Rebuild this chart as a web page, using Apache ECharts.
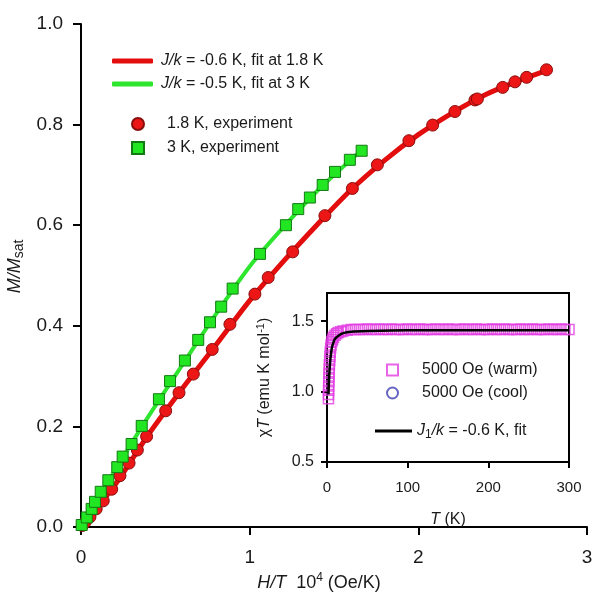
<!DOCTYPE html>
<html><head><meta charset="utf-8">
<script src="https://cdn.jsdelivr.net/npm/echarts@6/dist/echarts.min.js"></script>
<style>html,body{margin:0;padding:0;background:#fff}#c{width:600px;height:599px}</style>
</head><body><div id="c"></div>
<script>
const FONT = '"Liberation Sans", Arial, sans-serif';
const TXT = '#1a1a1a';

// ---- main plot: M/Msat vs H/T (10^4 Oe/K) ----
const exp18X = [0.008, 0.025, 0.053, 0.09, 0.132, 0.182, 0.231, 0.285, 0.334, 0.389, 0.502, 0.581, 0.666, 0.778, 0.883, 1.031, 1.110, 1.255, 1.446, 1.609, 1.757, 1.944, 2.085, 2.217, 2.336, 2.350, 2.500, 2.573, 2.642, 2.760];
const exp18Y = [0.003, 0.010, 0.020, 0.036, 0.052, 0.075, 0.102, 0.127, 0.153, 0.180, 0.231, 0.267, 0.304, 0.353, 0.403, 0.463, 0.496, 0.547, 0.619, 0.673, 0.720, 0.768, 0.799, 0.826, 0.849, 0.851, 0.874, 0.885, 0.894, 0.909];

const exp3X = [0.004, 0.034, 0.063, 0.083, 0.117, 0.162, 0.215, 0.247, 0.300, 0.360, 0.462, 0.528, 0.616, 0.695, 0.765, 0.831, 0.899, 1.061, 1.215, 1.288, 1.357, 1.433, 1.506, 1.594, 1.664];
const exp3Y = [0.004, 0.019, 0.036, 0.050, 0.070, 0.093, 0.119, 0.140, 0.165, 0.201, 0.254, 0.290, 0.331, 0.372, 0.407, 0.438, 0.474, 0.543, 0.600, 0.632, 0.655, 0.680, 0.706, 0.730, 0.748];

const fit18X = [0, 0.2, 0.4, 0.6, 0.8, 1.0, 1.2, 1.4, 1.6, 1.8, 2.0, 2.2, 2.4, 2.6, 2.78];
const fit18Y = [0, 0.083, 0.184, 0.275, 0.362, 0.450, 0.528, 0.601, 0.670, 0.729, 0.780, 0.823, 0.860, 0.888, 0.910];

const fit3X = [0, 0.2, 0.4, 0.6, 0.8, 1.0, 1.2, 1.4, 1.66];
const fit3Y = [0, 0.112, 0.220, 0.322, 0.423, 0.518, 0.596, 0.668, 0.748];

// ---- inset: chi*T vs T ----
const warmT = [1.8, 1.9, 2.0, 2.1, 2.2, 2.4, 2.6, 2.8, 3.0, 3.3, 3.6, 4, 4.5, 5, 6, 7, 8, 10, 12, 14, 17, 20, 25, 30, 35, 40, 45, 50, 55, 60, 65, 70, 75, 80, 85, 90, 95, 100, 105, 110, 115, 120, 125, 130, 135, 140, 145, 150, 155, 160, 165, 170, 175, 180, 185, 190, 195, 200, 205, 210, 215, 220, 225, 230, 235, 240, 245, 250, 255, 260, 265, 270, 275, 280, 285, 290, 295, 300];
const warmChiT = [0.95, 0.98, 1.01, 1.04, 1.07, 1.10, 1.13, 1.16, 1.19, 1.22, 1.25, 1.28, 1.31, 1.33, 1.355, 1.37, 1.385, 1.40, 1.41, 1.42, 1.425, 1.43, 1.435, 1.44, 1.44, 1.44, 1.44, 1.445, 1.44, 1.44, 1.445, 1.44, 1.44, 1.445, 1.44, 1.44, 1.44, 1.445, 1.44, 1.44, 1.445, 1.44, 1.44, 1.44, 1.445, 1.44, 1.44, 1.445, 1.44, 1.44, 1.44, 1.445, 1.44, 1.44, 1.445, 1.44, 1.44, 1.44, 1.445, 1.44, 1.44, 1.445, 1.44, 1.44, 1.44, 1.445, 1.44, 1.44, 1.445, 1.44, 1.44, 1.44, 1.445, 1.44, 1.44, 1.445, 1.44, 1.44];
const coolT = [];
const coolChiT = [];
const fitT = [1.8, 2.5, 3, 4, 5, 6, 8, 10, 15, 20, 30, 50, 100, 200, 300];
const fitChiT = [0.98, 1.08, 1.14, 1.22, 1.27, 1.31, 1.35, 1.375, 1.40, 1.415, 1.425, 1.43, 1.435, 1.435, 1.435];

const mainTicksY = [0, 0.2, 0.4, 0.6, 0.8, 1.0];
const insetTicksY = [0.5, 1.0, 1.5];

const zip = (a, b) => a.map((v, i) => [v, b[i]]);

const chart = echarts.init(document.getElementById('c'), null, {renderer: 'canvas'});

const NAME_FIT18 = 'J/k = -0.6 K, fit at 1.8 K';
const NAME_FIT3 = 'J/k = -0.5 K, fit at 3 K';
const NAME_E18 = '1.8 K, experiment';
const NAME_E3 = '3 K, experiment';
const NAME_WARM = '5000 Oe (warm)';
const NAME_COOL = '5000 Oe (cool)';
const NAME_FITI = 'J1/k = -0.6 K, fit';

const axisLine = {show: true, lineStyle: {color: '#000', width: 2}};

chart.setOption({
  animation: false,
  backgroundColor: '#fff',
  textStyle: {fontFamily: FONT},
  grid: [
    {left: 81, right: 13, top: 24, bottom: 72, show: false, containLabel: false, outerBoundsMode: 'none'},
    {left: 327, right: 31, top: 293, bottom: 137, show: true, borderColor: '#000', borderWidth: 2, backgroundColor: '#fff', z: 5, containLabel: false, outerBoundsMode: 'none'}
  ],
  xAxis: [
    {
      gridIndex: 0, type: 'value', min: 0, max: 3, interval: 1,
      axisLine: axisLine, splitLine: {show: false},
      axisTick: {show: true, length: 8, lineStyle: {color: '#000', width: 2}},
      axisLabel: {fontSize: 19, color: TXT, margin: 21, fontFamily: FONT},
      name: '{i|H/T}  10{sup|4} (Oe/K)', nameLocation: 'middle', nameGap: 40,
      nameTextStyle: {fontSize: 18, color: TXT, fontFamily: FONT, lineHeight: 22, padding: [0, 30, 0, 0],
        rich: {i: {fontStyle: 'italic', fontSize: 18, lineHeight: 22, fontFamily: FONT, color: TXT},
               sup: {fontSize: 12, lineHeight: 12, verticalAlign: 'top', fontFamily: FONT, color: TXT}}}
    },
    {
      gridIndex: 1, type: 'value', min: 0, max: 300, interval: 100, z: 6,
      axisLine: axisLine, splitLine: {show: false},
      axisTick: {show: true, length: 6, lineStyle: {color: '#000', width: 2}},
      axisLabel: {fontSize: 15, color: TXT, margin: 18, fontFamily: FONT},
      name: '{i|T} (K)', nameLocation: 'middle', nameGap: 50,
      nameTextStyle: {fontSize: 16, color: TXT, fontFamily: FONT,
        rich: {i: {fontStyle: 'italic', fontSize: 16, fontFamily: FONT, color: TXT}}}
    }
  ],
  yAxis: [
    {
      gridIndex: 0, type: 'value', min: 0, max: 1, interval: 0.2,
      axisLine: axisLine, splitLine: {show: false},
      axisTick: {show: true, length: 8, lineStyle: {color: '#000', width: 2}},
      axisLabel: {fontSize: 19, color: TXT, margin: 18, fontFamily: FONT, formatter: v => v.toFixed(1),
        customValues: mainTicksY},
      name: '{i|M/M}{sub|sat}', nameLocation: 'middle', nameGap: 54, nameRotate: 90,
      nameTextStyle: {fontSize: 18, color: TXT, fontFamily: FONT, lineHeight: 22, padding: [0, 0, 0, 18],
        rich: {i: {fontStyle: 'italic', fontSize: 18, lineHeight: 22, fontFamily: FONT, color: TXT},
               sub: {fontSize: 14, lineHeight: 14, verticalAlign: 'bottom', fontFamily: FONT, color: TXT}}}
    },
    {
      gridIndex: 1, type: 'value', min: 0.5, max: 1.7, interval: 0.5, z: 6,
      axisLine: axisLine, splitLine: {show: false},
      axisTick: {show: true, length: 6, lineStyle: {color: '#000', width: 2}, customValues: insetTicksY},
      axisLabel: {fontSize: 16, color: TXT, margin: 13, fontFamily: FONT, formatter: v => v.toFixed(1),
        customValues: insetTicksY},
      name: 'χ{i|T} (emu K mol{sup|-1})', nameLocation: 'middle', nameGap: 52, nameRotate: 90,
      nameTextStyle: {fontSize: 16, color: TXT, fontFamily: FONT, lineHeight: 20,
        rich: {i: {fontStyle: 'italic', fontSize: 16, lineHeight: 20, fontFamily: FONT, color: TXT},
               sup: {fontSize: 11, lineHeight: 11, verticalAlign: 'top', fontFamily: FONT, color: TXT}}}
    }
  ],
  legend: [
    {
      left: 107, top: 48, orient: 'vertical', itemWidth: 41, itemHeight: 5, itemGap: 7,
      icon: 'roundRect', selectedMode: false, data: [NAME_FIT18, NAME_FIT3],
      formatter: n => n.replace('J/k', '{i|J/k}'),
      textStyle: {fontSize: 16, color: TXT, fontFamily: FONT, lineHeight: 16, padding: [0, 0, 0, 3],
        rich: {i: {fontStyle: 'italic', fontSize: 16, lineHeight: 16, fontFamily: FONT, color: TXT}}}
    },
    {
      left: 126, top: 111, orient: 'vertical', itemWidth: 12, itemHeight: 12, itemGap: 8,
      selectedMode: false,
      data: [{name: NAME_E18, icon: 'circle'}, {name: NAME_E3, icon: 'rect'}],
      textStyle: {fontSize: 16, color: TXT, fontFamily: FONT, lineHeight: 16, padding: [0, 0, 0, 18]}
    },
    {
      left: 381, top: 357, orient: 'vertical', itemWidth: 11, itemHeight: 11, itemGap: 7,
      selectedMode: false, z: 10,
      data: [{name: NAME_WARM, icon: 'rect'}, {name: NAME_COOL, icon: 'circle'}],
      textStyle: {fontSize: 16, color: TXT, fontFamily: FONT, lineHeight: 16, padding: [0, 0, 0, 19]}
    },
    {
      left: 370, top: 416, orient: 'vertical', itemWidth: 37, itemHeight: 3,
      selectedMode: false, z: 10, icon: 'rect',
      data: [NAME_FITI],
      formatter: () => '{i|J}{sub|1}{i|/k} = -0.6 K, fit',
      textStyle: {fontSize: 16, color: TXT, fontFamily: FONT, lineHeight: 20,
        rich: {i: {fontStyle: 'italic', fontSize: 16, lineHeight: 20, fontFamily: FONT, color: TXT},
               sub: {fontSize: 12, lineHeight: 12, verticalAlign: 'bottom', fontFamily: FONT, color: TXT}}}
    }
  ],
  series: [
    {
      name: NAME_FIT18, type: 'line', xAxisIndex: 0, yAxisIndex: 0, data: zip(fit18X, fit18Y),
      symbol: 'none', smooth: 0.3, color: '#e30d0d',
      lineStyle: {color: '#e30d0d', width: 5}, z: 2
    },
    {
      name: NAME_FIT3, type: 'line', xAxisIndex: 0, yAxisIndex: 0, data: zip(fit3X, fit3Y),
      symbol: 'none', smooth: 0.3, color: '#2fe62f',
      lineStyle: {color: '#2fe62f', width: 4}, z: 2
    },
    {
      name: NAME_E18, type: 'scatter', xAxisIndex: 0, yAxisIndex: 0, data: zip(exp18X, exp18Y),
      symbol: 'circle', symbolSize: 12,
      itemStyle: {color: '#ec1616', borderColor: '#8a0d0d', borderWidth: 1, opacity: 1}, z: 3
    },
    {
      name: NAME_E3, type: 'scatter', xAxisIndex: 0, yAxisIndex: 0, data: zip(exp3X, exp3Y),
      symbol: 'rect', symbolSize: 11,
      itemStyle: {color: '#22e622', borderColor: '#137a13', borderWidth: 1, opacity: 1}, z: 4
    },
    {
      name: NAME_COOL, type: 'scatter', xAxisIndex: 1, yAxisIndex: 1, data: zip(coolT, coolChiT),
      symbol: 'circle', symbolSize: 11,
      itemStyle: {color: 'rgba(255,255,255,0)', borderColor: '#3f3fb0', borderWidth: 1.5}, z: 7
    },
    {
      name: NAME_WARM, type: 'scatter', xAxisIndex: 1, yAxisIndex: 1, data: zip(warmT, warmChiT),
      symbol: 'rect', symbolSize: 10,
      itemStyle: {color: 'rgba(255,255,255,0)', borderColor: '#e23ce2', borderWidth: 1.5}, z: 7
    },
    {
      name: NAME_FITI, type: 'line', xAxisIndex: 1, yAxisIndex: 1, data: zip(fitT, fitChiT),
      symbol: 'none', smooth: 0.2, color: '#000',
      lineStyle: {color: '#000', width: 2.5}, z: 8
    }
  ]
});
</script>
</body></html>
